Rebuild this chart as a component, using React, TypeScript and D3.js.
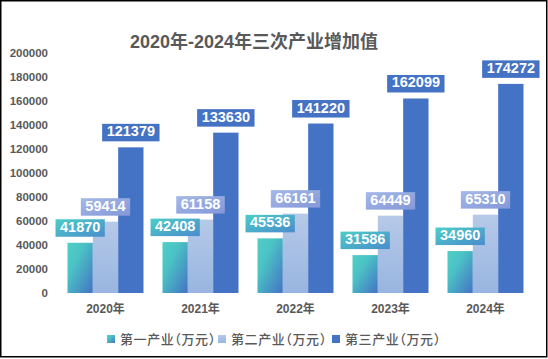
import React, { useEffect, useRef } from 'react';
import * as d3 from 'd3';

const years = ['2020年', '2021年', '2022年', '2023年', '2024年'];
const seriesNames = ['第一产业（万元）', '第二产业（万元）', '第三产业（万元）'];
const primary = [41870, 42408, 45536, 31586, 34960];
const secondary = [59414, 61158, 66161, 64449, 65310];
const tertiary = [121379, 133630, 141220, 162099, 174272];
const yTicks = [0, 20000, 40000, 60000, 80000, 100000, 120000, 140000, 160000, 180000, 200000];

const W = 548;
const H = 359;
const FONT = '"Liberation Sans", Arial, "Noto Sans CJK SC", sans-serif';
const GRAY = '#595959';

const App = () => {
  const ref = useRef<SVGSVGElement>(null);

  useEffect(() => {
    document.body.style.margin = '0';
    const svg = d3.select(ref.current);
    svg.selectAll('*').remove();

    const margin = { top: 53, right: 15, bottom: 66, left: 58 };

    const x = d3.scaleBand().domain(years).range([margin.left, W - margin.right]).paddingInner(0.2).paddingOuter(0.1);
    const x1 = d3.scaleBand().domain(['0', '1', '2']).range([0, x.bandwidth()]);
    const y = d3.scaleLinear().domain([0, 200000]).range([H - margin.bottom, margin.top]);

    // gradients
    const defs = svg.append('defs');
    const grad = (id: string, stops: [number, string][], x2: number, y2: number) => {
      const g = defs.append('linearGradient').attr('id', id)
        .attr('x1', 0).attr('y1', 0).attr('x2', x2).attr('y2', y2);
      stops.forEach(([o, c]) => g.append('stop').attr('offset', o).attr('stop-color', c));
    };
    grad('g1', [[0, '#4fcfc6'], [0.35, '#4bc2c5'], [1, '#4472c4']], 1, 1);
    grad('g2', [[0, '#b6c9e8'], [1, '#98b5e0']], 0, 1);
    grad('gl1', [[0, '#4dcec7'], [1, '#4a8ccd']], 1, 1);
    grad('gl2', [[0, '#a6b9e8'], [1, '#8497d8']], 1, 1);

    const barFill = ['url(#g1)', 'url(#g2)', '#4472c4'];
    const labelFill = ['url(#gl1)', 'url(#gl2)', '#4472c4'];
    const series = [primary, secondary, tertiary];

    // title
    svg.append('text')
      .attr('x', 254).attr('y', 48)
      .attr('text-anchor', 'middle')
      .attr('font-family', FONT).attr('font-size', 18).attr('font-weight', 'bold')
      .attr('fill', GRAY)
      .text('2020年-2024年三次产业增加值');

    // y axis labels
    svg.append('g').selectAll('text').data(yTicks).join('text')
      .attr('x', 48).attr('y', d => y(d) + 4)
      .attr('text-anchor', 'end')
      .attr('font-family', FONT).attr('font-size', 11.5).attr('font-weight', 'bold')
      .attr('fill', GRAY)
      .text(d => d);

    // x axis labels
    svg.append('g').selectAll('text').data(years).join('text')
      .attr('x', d => x(d)! + x.bandwidth() / 2).attr('y', 313)
      .attr('text-anchor', 'middle')
      .attr('font-family', FONT).attr('font-size', 12).attr('font-weight', 'bold')
      .attr('fill', GRAY)
      .text(d => d);

    // bars
    series.forEach((vals, si) => {
      svg.append('g').selectAll('rect').data(vals).join('rect')
        .attr('x', (d, i) => x(years[i])! + x1(String(si))!)
        .attr('y', d => y(d))
        .attr('width', x1.bandwidth())
        .attr('height', d => y(0) - y(d))
        .attr('fill', barFill[si]);
    });

    // data labels
    series.forEach((vals, si) => {
      vals.forEach((v, i) => {
        const cx = x(years[i])! + x1(String(si))! + x1.bandwidth() / 2;
        const g = svg.append('g');
        const rect = g.append('rect').attr('fill', labelFill[si]);
        const t = g.append('text')
          .attr('x', cx).attr('y', y(v) - 11)
          .attr('text-anchor', 'middle')
          .attr('font-family', FONT).attr('font-size', 14.5).attr('font-weight', 'bold')
          .attr('fill', '#fff')
          .text(v);
        const tw = (t.node() as SVGTextElement).getComputedTextLength();
        const bw = tw + 9;
        rect.attr('x', cx - bw / 2).attr('y', y(v) - 23.5).attr('width', bw).attr('height', 17.5);
      });
    });

    // legend
    const legendX = [107, 218, 332];
    seriesNames.forEach((name, si) => {
      svg.append('rect')
        .attr('x', legendX[si]).attr('y', 335).attr('width', 8).attr('height', 8)
        .attr('fill', barFill[si]);
      svg.append('text')
        .attr('x', legendX[si] + 13).attr('y', 344)
        .attr('font-family', '"Noto Sans CJK SC", sans-serif').attr('font-size', 13)
        .attr('font-weight', 500)
        .attr('letter-spacing', 0.6)
        .attr('fill', GRAY)
        .style('font-feature-settings', '"halt"')
        .text(name);
    });

    // chart border
    svg.append('rect')
      .attr('x', 0.75).attr('y', 0.75).attr('width', 546).attr('height', 356)
      .attr('fill', 'none').attr('stroke', '#000').attr('stroke-width', 1.5);
  }, []);

  return <svg ref={ref} width={W} height={H} style={{ display: 'block', background: '#fff' }} />;
};

export default App;
